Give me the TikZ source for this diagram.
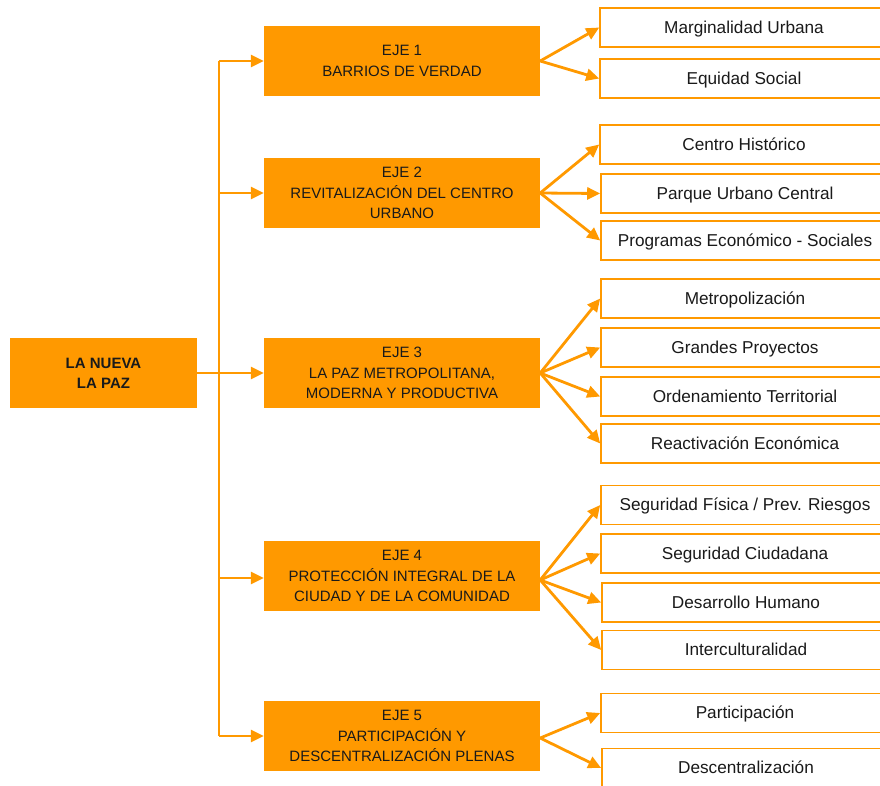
\documentclass[tikz,border=0pt]{standalone}
\usepackage{fontspec}
\setmainfont{Liberation Sans}
\usetikzlibrary{arrows.meta}
\definecolor{org}{HTML}{FF9900}
\definecolor{txt}{HTML}{1A1A1A}
\begin{document}
\begin{tikzpicture}[x=1pt,y=-1pt,
  rootbox/.style={fill=org,draw=none,minimum width=187pt,minimum height=70pt,inner sep=0pt,align=center,text=txt,font=\fontsize{15}{20}\selectfont\bfseries},
  ejebox/.style={fill=org,draw=none,minimum width=276pt,minimum height=70pt,inner sep=0pt,align=center,text=txt,font=\fontsize{15}{20.5}\selectfont},
  leafbox/.style={fill=white,draw=org,line width=1.6pt,minimum width=288pt,minimum height=39pt,inner sep=0pt,text height=12.3pt,text depth=1pt,text=txt,font=\fontsize{17.2}{20}\selectfont},
  conn/.style={draw=org,line width=2.8pt,-{Triangle[length=13pt,width=12pt]}},
  trunk/.style={draw=org,line width=2.8pt}]
\useasboundingbox (0,0) rectangle (880,785);
\clip (0,0) rectangle (880,785);
% root and axes
\node[rootbox] (root) at (103.5,373) {LA NUEVA\\LA PAZ};
\node[ejebox] (e1) at (402,61) {EJE 1\\BARRIOS DE VERDAD};
\node[ejebox] (e2) at (402,193) {EJE 2\\REVITALIZACIÓN DEL CENTRO\\URBANO};
\node[ejebox] (e3) at (402,373) {EJE 3\\LA PAZ METROPOLITANA,\\MODERNA Y PRODUCTIVA};
\node[ejebox] (e4) at (402,576) {EJE 4\\PROTECCIÓN INTEGRAL DE LA\\CIUDAD Y DE LA COMUNIDAD};
\node[ejebox] (e5) at (402,736) {EJE 5\\PARTICIPACIÓN Y\\DESCENTRALIZACIÓN PLENAS};
% leaves
\node[leafbox] (l11) at (744,27.5) {Marginalidad Urbana};
\node[leafbox] (l12) at (744,78.5) {Equidad Social};
\node[leafbox] (l21) at (744,144.5) {Centro Histórico};
\node[leafbox] (l22) at (745,193.5) {Parque Urbano Central};
\node[leafbox] (l23) at (745,240.5) {Programas Económico - Sociales};
\node[leafbox] (l31) at (745,298.5) {Metropolización};
\node[leafbox] (l32) at (745,347.5) {Grandes Proyectos};
\node[leafbox] (l33) at (745,396.5) {Ordenamiento Territorial};
\node[leafbox] (l34) at (745,443.5) {Reactivación Económica};
\node[leafbox] (l41) at (745,505) {Seguridad Física / Prev. Riesgos};
\node[leafbox] (l42) at (745,553.5) {Seguridad Ciudadana};
\node[leafbox] (l43) at (746,602.5) {Desarrollo Humano};
\node[leafbox] (l44) at (746,650) {Interculturalidad};
\node[leafbox] (l51) at (745,713) {Participación};
\node[leafbox] (l52) at (746,768) {Descentralización};
% trunk
\coordinate (t1) at (219,61);
\coordinate (t2) at (219,193);
\coordinate (t4) at (219,578);
\coordinate (t5) at (219,736);
\draw[trunk] (t1) -- (t5);
\draw[conn] (root.east) -- (e3.west);
\draw[conn] (t1) -- (e1.west);
\draw[conn] (t2) -- (e2.west);
\draw[conn] (t4) -- (e4.west |- t4);
\draw[conn] (t5) -- (e5.west);
% axis to leaves
\foreach \l in {l11,l12} \draw[conn] (e1.east) -- (\l.west);
\foreach \l in {l21,l22,l23} \draw[conn] (e2.east) -- (\l.west);
\foreach \l in {l31,l32,l33,l34} \draw[conn] (e3.east) -- (\l.west);
\foreach \l in {l41,l42,l43,l44} \draw[conn] ([yshift=-4pt]e4.east) -- (\l.west);
\foreach \l in {l51,l52} \draw[conn] ([yshift=-2pt]e5.east) -- (\l.west);
\end{tikzpicture}
\end{document}
